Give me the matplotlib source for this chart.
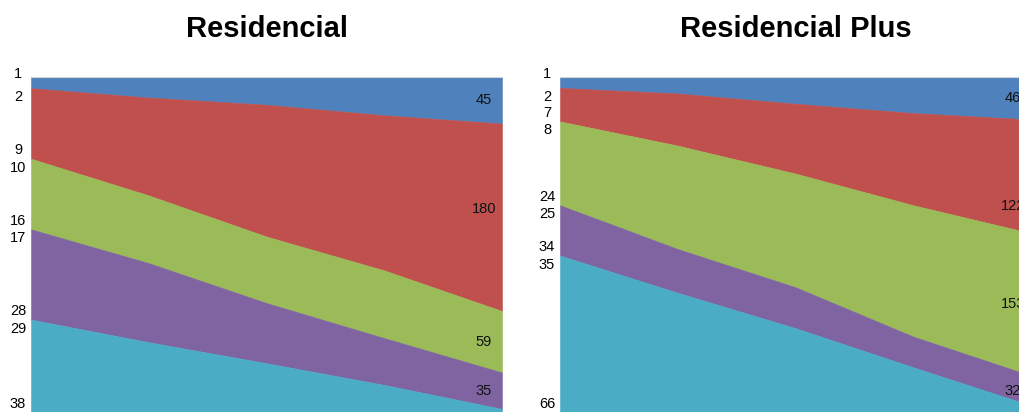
import matplotlib
matplotlib.use("Agg")
import matplotlib.pyplot as plt
import numpy as np
from matplotlib import font_manager

# ---------------------------------------------------------------------------
# Data
# ---------------------------------------------------------------------------
PERIODS = ["P1", "P2", "P3", "P4", "P5"]
SERIES_COLORS = ["#4F81BD", "#C0504D", "#9BBB59", "#8064A2", "#4BACC6"]

# Residencial: one list per band, top band first
RES_BLUE = [11, 20, 27, 37, 45]
RES_RED = [68, 94, 127, 149, 180]
RES_GREEN = [68, 65, 64, 65, 59]
RES_PURPLE = [87, 76, 58, 45, 35]
RES_CYAN = [89, 67, 47, 26, 3]
RES_RANK_LO = [1, 2, 10, 17, 29]
RES_RANK_HI = [1, 9, 16, 28, 38]

# Residencial Plus
PLUS_BLUE = [12, 18, 29, 39, 46]
PLUS_RED = [36, 56, 75, 99, 122]
PLUS_GREEN = [90, 111, 122, 141, 153]
PLUS_PURPLE = [54, 47, 44, 33, 32]
PLUS_CYAN = [168, 128, 90, 48, 7]
PLUS_RANK_LO = [1, 2, 8, 25, 35]
PLUS_RANK_HI = [1, 7, 24, 34, 66]

N_LABELED = 4            # end labels are shown for the first four bands only

# ---------------------------------------------------------------------------
# Styling
# ---------------------------------------------------------------------------
_names = {f.name for f in font_manager.fontManager.ttflist}
NUM_FONT = "Liberation Sans Narrow" if "Liberation Sans Narrow" in _names else "Liberation Sans"
NUM_SIZE = 11.5 if NUM_FONT.endswith("Narrow") else 10.5
TITLE_FONT = "Liberation Sans"

W, H, DPI = 1019, 412, 100
AX_TOP_PX = 76.7
AX_W_PX = 471


def draw_panel(ax, title, bands, rank_lo, rank_hi, end_nudge):
    x = np.arange(len(PERIODS))
    vals = np.array(bands, dtype=float)
    frac = vals / vals.sum(axis=0)
    ax.stackplot(x, frac, colors=SERIES_COLORS, linewidth=0.4,
                 edgecolor="face")
    ax.set_xlim(x[0], x[-1])
    ax.set_ylim(1, 0)
    ax.set_xticks([])
    ax.set_yticks([])
    for side in ("left", "right", "bottom"):
        ax.spines[side].set_visible(False)
    ax.spines["top"].set_color("#d4d8dc")
    ax.spines["top"].set_linewidth(0.8)

    # rank labels at the left edge, around each band boundary
    cum = np.concatenate([[0.0], np.cumsum(frac[:, 0])])
    for i, (lo, hi) in enumerate(zip(rank_lo, rank_hi)):
        if lo == hi:
            ax.annotate(str(lo), xy=(x[0], cum[i]), xytext=(-13, 3),
                        textcoords="offset pixels", ha="center", va="center",
                        fontsize=NUM_SIZE, family=NUM_FONT,
                        annotation_clip=False)
            continue
        ax.annotate(str(lo), xy=(x[0], cum[i]), xytext=(-13, -9),
                    textcoords="offset pixels", ha="center", va="center",
                    fontsize=NUM_SIZE, family=NUM_FONT, annotation_clip=False)
        ax.annotate(str(hi), xy=(x[0], cum[i + 1]), xytext=(-13, 8.5),
                    textcoords="offset pixels", ha="center", va="center",
                    fontsize=NUM_SIZE, family=NUM_FONT, annotation_clip=False)

    # value labels at the right end
    cum_end = np.concatenate([[0.0], np.cumsum(frac[:, -1])])
    for i in range(N_LABELED):
        mid = (cum_end[i] + cum_end[i + 1]) / 2
        ax.annotate(f"{vals[i, -1]:.0f}", xy=(x[-1], mid),
                    xytext=(-18, -end_nudge.get(i, 0)),
                    textcoords="offset pixels", ha="center", va="center",
                    fontsize=NUM_SIZE, family=NUM_FONT, color="#111111",
                    annotation_clip=False)

    ax.annotate(title, xy=(0.5, 1), xycoords="axes fraction",
                xytext=(0, 40), textcoords="offset pixels",
                ha="center", va="baseline", fontsize=21,
                fontweight="bold", family=TITLE_FONT, annotation_clip=False)


def main():
    fig = plt.figure(figsize=(W / DPI, H / DPI), dpi=DPI)
    ax_h = (H - AX_TOP_PX) / H
    ax1 = fig.add_axes([31 / W, 0, AX_W_PX / W, ax_h])
    ax2 = fig.add_axes([560 / W, 0, AX_W_PX / W, ax_h])

    draw_panel(ax1, "Residencial",
               [RES_BLUE, RES_RED, RES_GREEN, RES_PURPLE, RES_CYAN],
               RES_RANK_LO, RES_RANK_HI, {1: -8})
    draw_panel(ax2, "Residencial Plus",
               [PLUS_BLUE, PLUS_RED, PLUS_GREEN, PLUS_PURPLE, PLUS_CYAN],
               PLUS_RANK_LO, PLUS_RANK_HI, {1: 30})

    fig.savefig("out.png", dpi=DPI)


if __name__ == "__main__":
    main()
